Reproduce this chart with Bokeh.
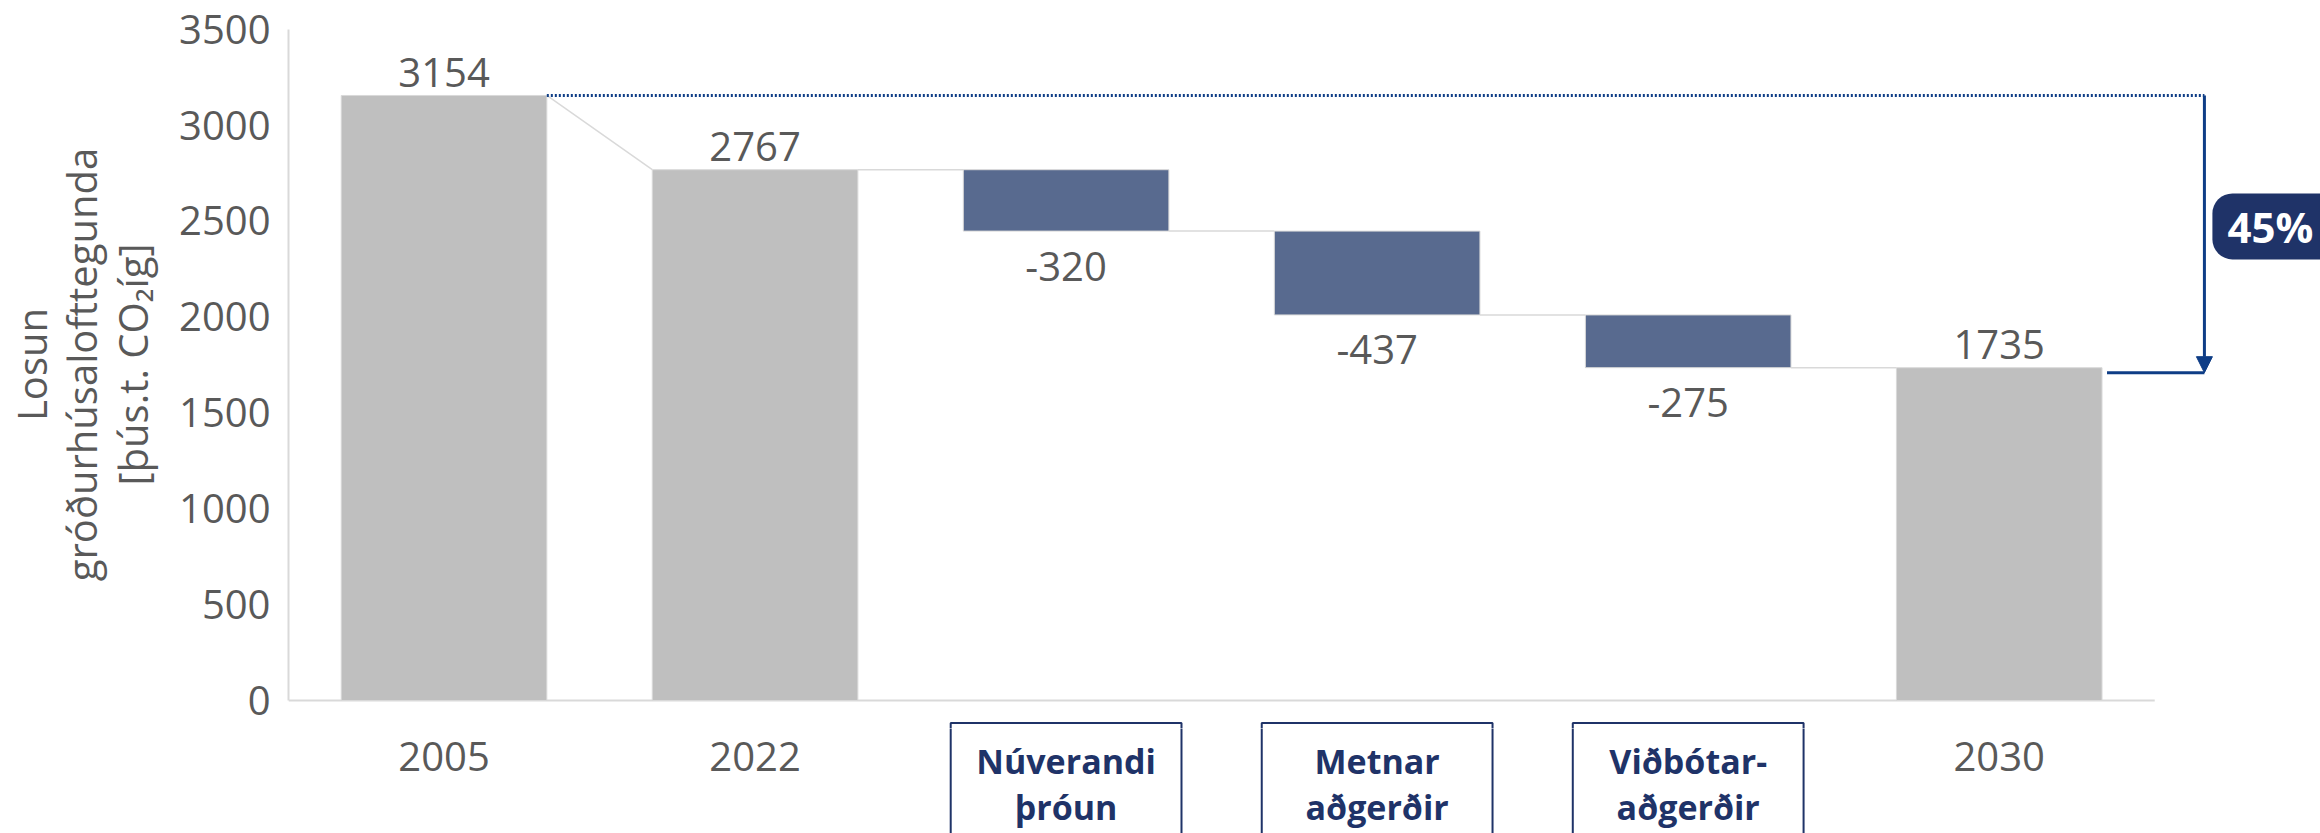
from bokeh.plotting import figure
from bokeh.layouts import column
from bokeh.models import Range1d, FixedTicker, Arrow, NormalHead
from bokeh.core.properties import value
from bokeh.embed import file_html
from bokeh.resources import INLINE

# ---------------- data ----------------
categories = ["2005", "2022", "Núverandi þróun", "Metnar aðgerðir", "Viðbótar-aðgerðir", "2030"]
start_values = [3154, 2767]          # 2005, 2022
delta_values = [-320, -437, -275]    # Núverandi þróun, Metnar aðgerðir, Viðbótar-aðgerðir
end_value = 1735                     # 2030
percent_label = "45%"
y_ticks = [0, 500, 1000, 1500, 2000, 2500, 3000, 3500]
y_title = "Losun\ngróðurhúsalofttegunda\n[þús.t. CO₂íg]"
year_labels = ["2005", "2022", "2030"]
box_line1 = ["Núverandi", "Metnar", "Viðbótar-"]
box_line2 = ["þróun", "aðgerðir", "aðgerðir"]

# ---------------- layout ----------------
W, H = 2320, 833
SPLIT = 728             # canvas y where the chart ends and the label strip starts
FRAME_LEFT = 285
BASE_Y = 700            # canvas y of value 0
PX_CAT = 311.5          # pixels per category
PX_UNIT = 671.4 / 3500  # pixels per value unit
U = 1.0 / PX_UNIT       # value units per pixel
BAR_W = 0.661

GRAY = "#BFBFBF"
DELTA = "#586A8F"
TXT = "#595959"
LIGHT = "#D9D9D9"
NAVY = "#1F3368"
BLUE = "#0E3D86"
FONT = value("Open Sans")

x_range = Range1d(0, (W - FRAME_LEFT) / PX_CAT)

p = figure(width=W, height=SPLIT, x_range=x_range,
           y_range=Range1d(-(SPLIT - BASE_Y) * U, BASE_Y * U),
           output_backend="svg", toolbar_location=None, x_axis_location=None,
           min_border_left=FRAME_LEFT, min_border_right=0, min_border_top=0, min_border_bottom=0)
p.grid.visible = False
p.outline_line_color = None
p.background_fill_color = "white"
p.border_fill_color = "white"

ax = p.yaxis[0]
ax.ticker = FixedTicker(ticks=y_ticks)
ax.bounds = (0, 3500)
ax.axis_line_color = LIGHT
ax.axis_line_width = 2
ax.major_tick_line_color = None
ax.minor_tick_line_color = None
ax.major_label_text_font = "Open Sans"
ax.major_label_text_font_size = "40px"
ax.major_label_text_color = TXT
ax.major_label_standoff = 12
ax.axis_label = y_title
ax.axis_label_text_font = "Open Sans"
ax.axis_label_text_font_size = "40px"
ax.axis_label_text_font_style = "normal"
ax.axis_label_text_color = TXT
ax.axis_label_text_line_height = 0.92
ax.axis_label_standoff = 16

# ---------------- waterfall geometry ----------------
xs = [i + 0.5 for i in range(len(categories))]
bottoms, tops, colors = [], [], []
for v in start_values:
    bottoms.append(0); tops.append(v); colors.append(GRAY)
level = start_values[-1]
for d in delta_values:
    bottoms.append(level + d); tops.append(level); colors.append(DELTA)
    level += d
bottoms.append(0); tops.append(end_value); colors.append(GRAY)

# baseline
p.segment(x0=[0], y0=[0], x1=[len(categories)], y1=[0], line_color=LIGHT, line_width=2)

p.vbar(x=xs, width=BAR_W, bottom=bottoms, top=tops, fill_color=colors,
       line_color=LIGHT, line_width=1)

# connectors
levels = [start_values[0], start_values[1]]
lv = start_values[1]
for d in delta_values:
    lv += d
    levels.append(lv)
cx0, cy0, cx1, cy1 = [], [], [], []
for i in range(len(categories) - 1):
    cx0.append(xs[i] + BAR_W / 2)
    cx1.append(xs[i + 1] - BAR_W / 2)
    if i == 0:
        cy0.append(start_values[0]); cy1.append(start_values[1])
    else:
        cy0.append(levels[i]); cy1.append(levels[i])
p.segment(x0=cx0, y0=cy0, x1=cx1, y1=cy1, line_color=LIGHT, line_width=1.5)

# value labels
lab_x, lab_y, lab_t = [], [], []
for i, (b, t, c) in enumerate(zip(bottoms, tops, colors)):
    lab_x.append(xs[i])
    if c == GRAY:
        lab_y.append(t + 23 * U); lab_t.append(str(t))
    else:
        lab_y.append(b - 35 * U); lab_t.append(str(b - t))
p.text(x=lab_x, y=lab_y, text=lab_t, text_font=FONT, text_font_size="40px",
       text_color=TXT, text_align="center", text_baseline="middle")

# reduction arrow
arr_x = xs[-1] + 205.5 / PX_CAT
arr_end = end_value - 5 * U
p.segment(x0=[xs[0] + BAR_W / 2], y0=[start_values[0]], x1=[arr_x], y1=[start_values[0]],
          line_color=BLUE, line_width=3, line_dash="2 2")
p.segment(x0=[xs[-1] + BAR_W / 2 + 5 / PX_CAT], y0=[arr_end], x1=[arr_x], y1=[arr_end],
          line_color=BLUE, line_width=3)
p.add_layout(Arrow(end=NormalHead(size=16, fill_color=BLUE, line_color=BLUE),
                   x_start=arr_x, y_start=start_values[0], x_end=arr_x, y_end=arr_end,
                   line_color=BLUE, line_width=3))

mid = (start_values[0] + end_value) / 2 + 27
p.quad(left=[arr_x + 8 / PX_CAT], right=[arr_x + 160 / PX_CAT],
       top=[mid + 33 * U], bottom=[mid - 33 * U], fill_color=NAVY, line_color=None,
       border_radius=20)
p.text(x=[arr_x + 66 / PX_CAT], y=[mid], text=[percent_label], text_font=FONT,
       text_font_size="42px", text_font_style="bold", text_color="white",
       text_align="center", text_baseline="middle")

# ---------------- category label strip ----------------
q = figure(width=W, height=H - SPLIT, x_range=x_range,
           y_range=Range1d(-(H - BASE_Y) * U, -(SPLIT - BASE_Y) * U),
           output_backend="svg", toolbar_location=None,
           x_axis_location=None, y_axis_location=None,
           min_border_left=FRAME_LEFT, min_border_right=0, min_border_top=0, min_border_bottom=0)
q.grid.visible = False
q.outline_line_color = None
q.background_fill_color = "white"
q.border_fill_color = "white"

year_idx = [0, 1, 5]
q.text(x=[xs[i] for i in year_idx], y=[-56 * U] * 3, text=year_labels, text_font=FONT,
       text_font_size="40px", text_color=TXT, text_align="center", text_baseline="middle")

box_idx = [2, 3, 4]
bx = [xs[i] for i in box_idx]
for fig in (p, q):   # the box frames straddle the seam between the two panels
    fig.quad(left=[x - 0.371 for x in bx], right=[x + 0.371 for x in bx],
             top=[-22.5 * U] * 3, bottom=[-150 * U] * 3, fill_color=None,
             line_color=NAVY, line_width=2)
q.text(x=bx, y=[-60 * U] * 3, text=box_line1, text_font=FONT, text_font_size="34px",
       text_font_style="bold", text_color=NAVY, text_align="center", text_baseline="middle")
q.text(x=bx, y=[-106 * U] * 3, text=box_line2, text_font=FONT, text_font_size="34px",
       text_font_style="bold", text_color=NAVY, text_align="center", text_baseline="middle")

layout = column(p, q, spacing=0)
open("out.html", "w").write(file_html(layout, INLINE))
